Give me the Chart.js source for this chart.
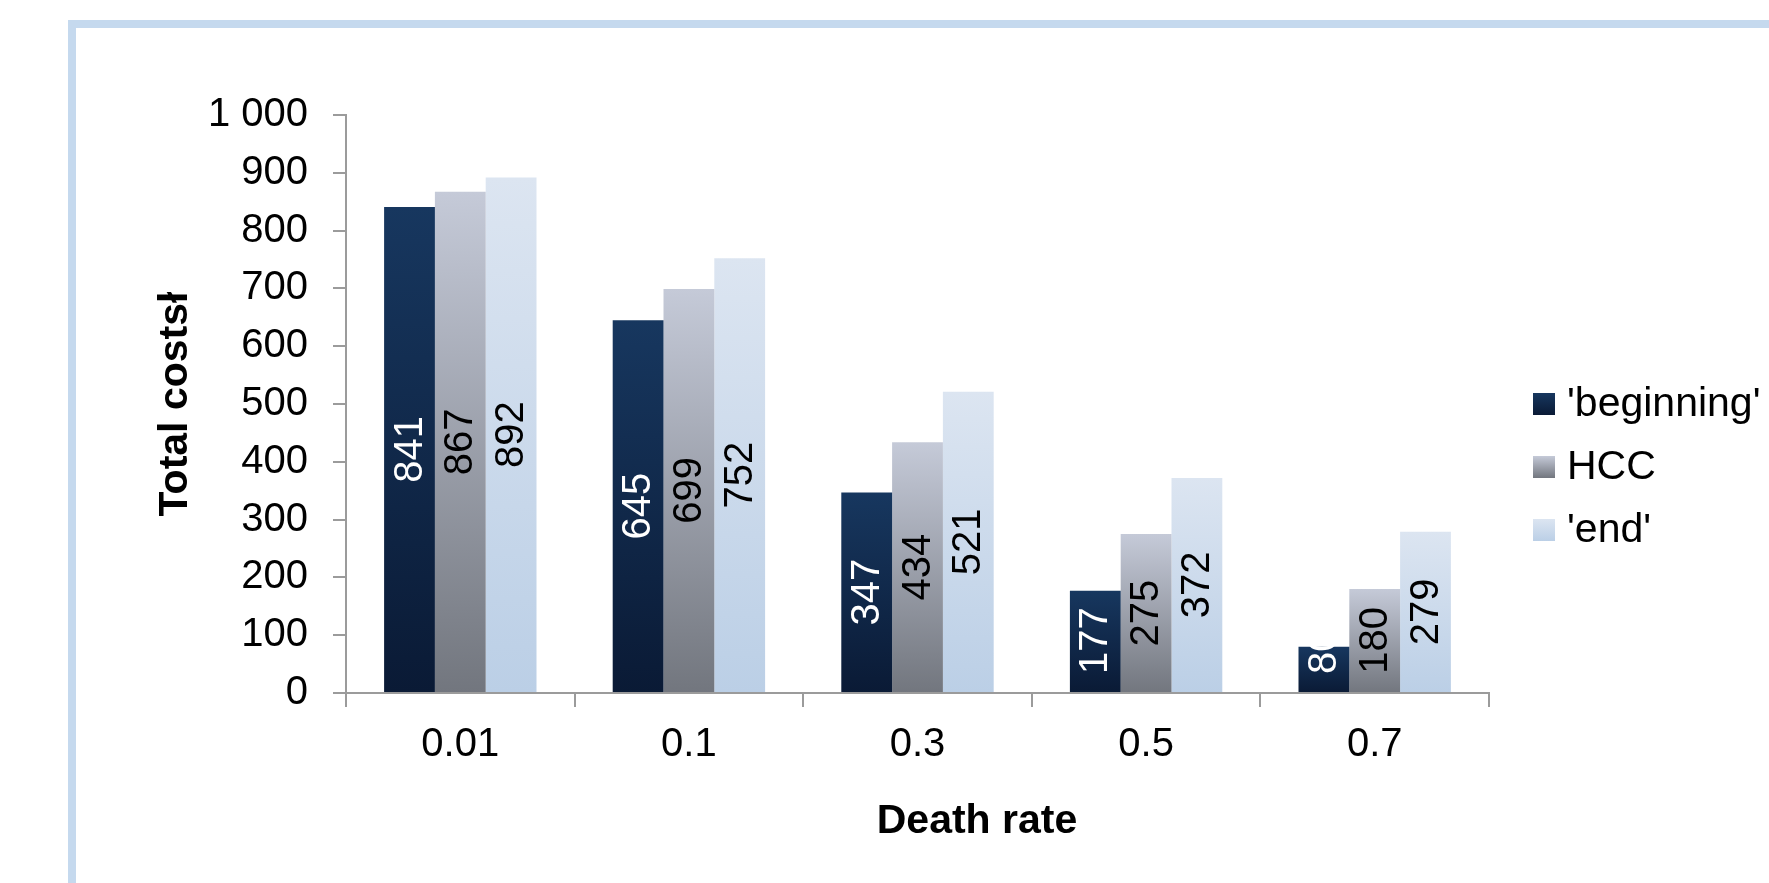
<!DOCTYPE html>
<html>
<head>
<meta charset="utf-8">
<title>Total costs by death rate</title>
<script src="https://cdn.jsdelivr.net/npm/chart.js@4.4.1/dist/chart.umd.min.js"></script>
<style>
  html, body { margin: 0; padding: 0; background: #ffffff; overflow: hidden; }
  #wrap { position: relative; width: 1769px; height: 883px; }
  #frame {
    position: absolute; left: 68px; top: 20px; width: 1800px; height: 900px;
    border-left: 8px solid #c5d9ee; border-top: 8px solid #c5d9ee;
    box-sizing: border-box;
  }
  #chart { position: absolute; left: 0; top: 0; }
</style>
</head>
<body>
<div id="wrap">
  <div id="frame"></div>
  <canvas id="chart" width="1769" height="883"></canvas>
</div>
<script>
// Death-rate scenarios on the category axis
const categories = ['0.01', '0.1', '0.3', '0.5', '0.7'];

// Total costs per scenario for each series
const beginningCosts = [841, 645, 347, 177, 80];
const hccCosts = [867, 699, 434, 275, 180];
const endCosts = [892, 752, 521, 372, 279];

const seriesNames = ["'beginning'", 'HCC', "'end'"];

// Value axis range and step
const yMin = 0;
const yMax = 1000;
const yStep = 100;

const yTitle = 'Total costsł';
const xTitle = 'Death rate';

const FONT = "'Liberation Sans', Arial, Helvetica, sans-serif";

// Vertical gradient (top colour, bottom colour) for each series
const gradientStops = [
  ['#17375f', '#0a1a35'],
  ['#c5cad8', '#72767e'],
  ['#dce5f1', '#bbcfe6']
];
const labelColors = ['#ffffff', '#000000', '#000000'];

function barGradient(ctx, top, bottom, stops) {
  const g = ctx.createLinearGradient(0, top, 0, bottom);
  g.addColorStop(0, stops[0]);
  g.addColorStop(1, stops[1]);
  return g;
}

function fillFor(seriesIndex) {
  return function (c) {
    const chart = c.chart;
    const stops = gradientStops[seriesIndex];
    if (!chart.chartArea || !chart.scales.y || c.raw === undefined) return stops[0];
    const y = chart.scales.y;
    const top = y.getPixelForValue(c.raw);
    const base = y.getPixelForValue(0);
    return barGradient(chart.ctx, top, base, stops);
  };
}

function formatThousands(v) {
  return String(v).replace(/\B(?=(\d{3})+(?!\d))/g, ' ');
}

// Value labels written vertically in the middle of each bar
const barValueLabels = {
  id: 'barValueLabels',
  afterDatasetsDraw(chart) {
    const ctx = chart.ctx;
    ctx.save();
    ctx.font = '40px ' + FONT;
    ctx.textAlign = 'center';
    ctx.textBaseline = 'middle';
    chart.data.datasets.forEach((ds, di) => {
      const meta = chart.getDatasetMeta(di);
      meta.data.forEach((bar, i) => {
        const text = String(ds.data[i]);
        const half = ctx.measureText(text).width / 2;
        // keep the label box clear of the category axis
        const cy = Math.min((bar.y + bar.base) / 2, bar.base - half - 18);
        ctx.save();
        ctx.translate(bar.x, cy);
        ctx.rotate(-Math.PI / 2);
        ctx.fillStyle = labelColors[di];
        ctx.fillText(text, 0, 1);
        ctx.restore();
      });
    });
    ctx.restore();
  }
};

// Legend on the right and the category-axis title
const sideLegend = {
  id: 'sideLegend',
  afterDraw(chart) {
    const ctx = chart.ctx;
    ctx.save();
    const boxX = 1533, box = 22, firstY = 404, rowGap = 63;
    ctx.font = '41px ' + FONT;
    ctx.textAlign = 'left';
    ctx.textBaseline = 'middle';
    chart.data.datasets.forEach((ds, i) => {
      const cy = firstY + i * rowGap;
      ctx.fillStyle = barGradient(ctx, cy - box / 2, cy + box / 2, gradientStops[i]);
      ctx.fillRect(boxX, cy - box / 2, box, box);
      ctx.fillStyle = '#000000';
      ctx.fillText(ds.label, boxX + box + 12, cy + 1);
    });

    ctx.font = 'bold 41px ' + FONT;
    ctx.textAlign = 'center';
    ctx.fillText(xTitle, 977, 822);
    ctx.restore();
  }
};

const axisGrey = '#9b9b9b';

new Chart(document.getElementById('chart'), {
  type: 'bar',
  data: {
    labels: categories,
    datasets: [
      { label: seriesNames[0], data: beginningCosts, backgroundColor: fillFor(0) },
      { label: seriesNames[1], data: hccCosts, backgroundColor: fillFor(1) },
      { label: seriesNames[2], data: endCosts, backgroundColor: fillFor(2) }
    ]
  },
  options: {
    responsive: false,
    animation: false,
    categoryPercentage: 3 / 4.5,
    barPercentage: 1,
    layout: { padding: { top: 115, right: 280, bottom: 0, left: 0 } },
    plugins: {
      legend: { display: false },
      tooltip: { enabled: false }
    },
    scales: {
      x: {
        grid: {
          offset: true,
          drawOnChartArea: false,
          drawTicks: true,
          tickLength: 14,
          color: axisGrey,
          lineWidth: 2
        },
        border: { color: axisGrey, width: 2 },
        ticks: {
          color: '#000000',
          font: { family: FONT, size: 40 },
          padding: 14,
          maxRotation: 0
        },
        afterFit(scale) { scale.height = 190; }
      },
      y: {
        min: yMin,
        max: yMax,
        grid: {
          drawOnChartArea: false,
          drawTicks: true,
          tickLength: 13,
          color: axisGrey,
          lineWidth: 2
        },
        border: { color: axisGrey, width: 2 },
        ticks: {
          stepSize: yStep,
          color: '#000000',
          font: { family: FONT, size: 40 },
          padding: 25,
          callback: (v) => formatThousands(v)
        },
        title: {
          display: true,
          text: yTitle,
          color: '#000000',
          font: { family: FONT, size: 41, weight: 'bold' },
          padding: { top: 151, bottom: 0 }
        },
        afterFit(scale) { scale.width = 346; }
      }
    }
  },
  plugins: [barValueLabels, sideLegend]
});
</script>
</body>
</html>
